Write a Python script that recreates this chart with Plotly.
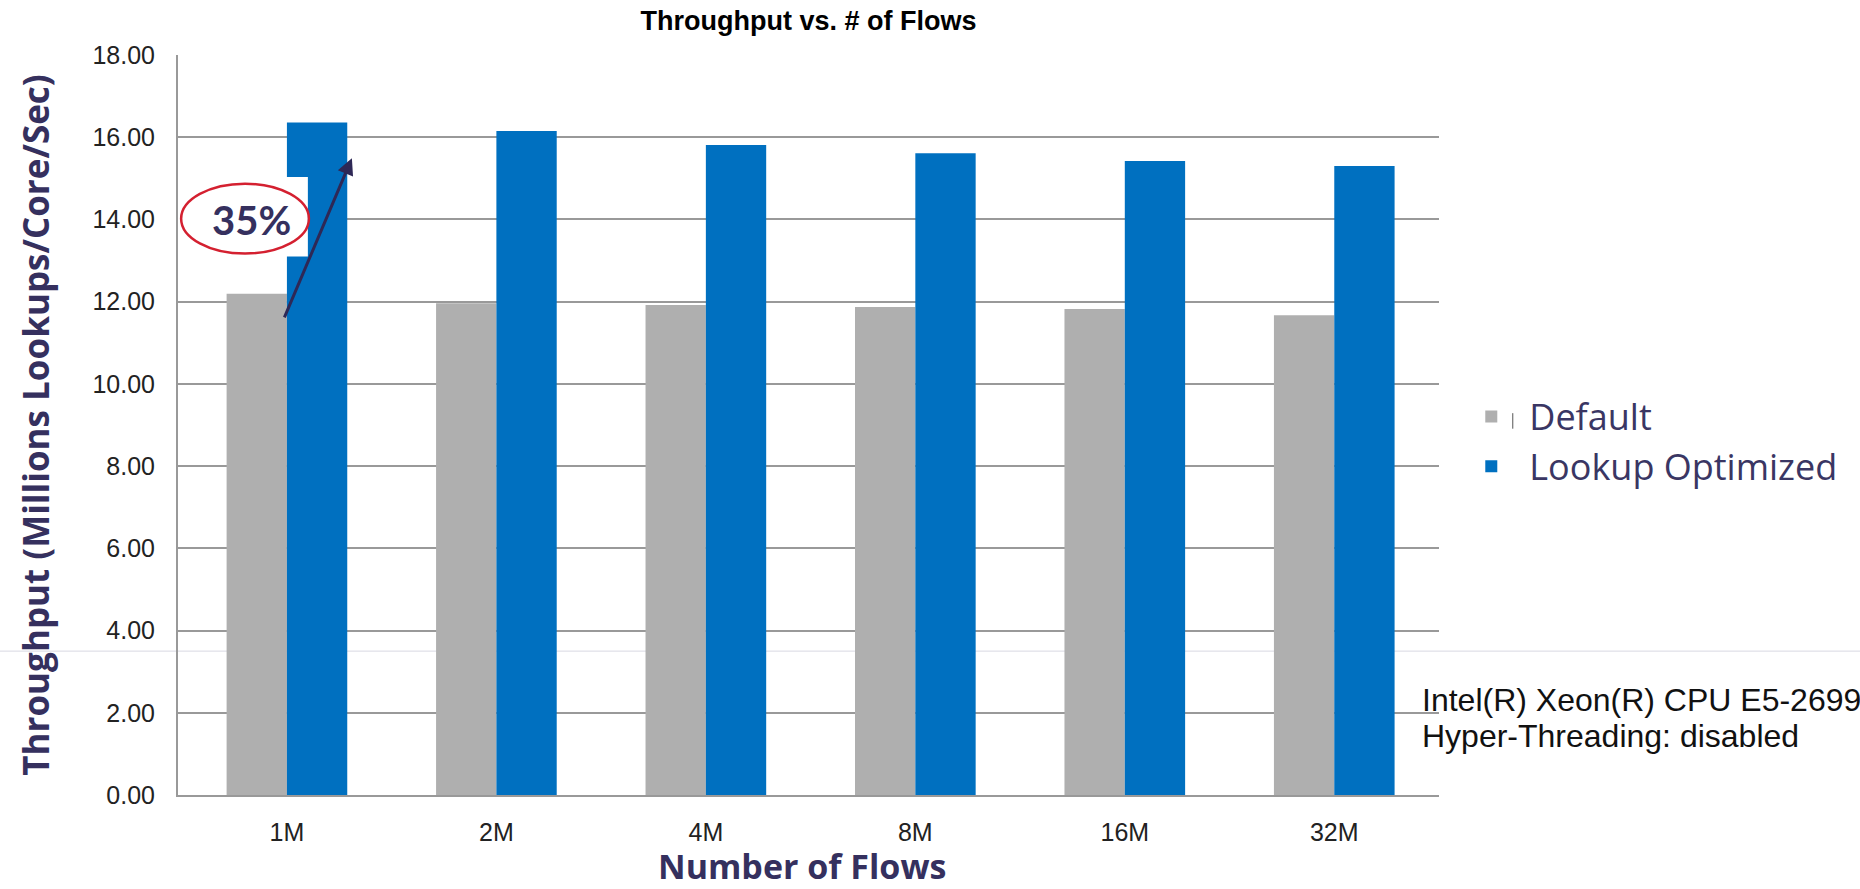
import plotly.graph_objects as go

# Throughput per core for each flow-table size
flows = ["1M", "2M", "4M", "8M", "16M", "32M"]
default_tput = [12.19, 11.96, 11.92, 11.87, 11.82, 11.67]
optimized_tput = [16.36, 16.15, 15.81, 15.61, 15.42, 15.30]
y_ticks = [0, 2, 4, 6, 8, 10, 12, 14, 16, 18]
gain_label = "35%"

NAVY = "#35305E"
GRID = "#999999"
TITLE_FONT = "'Open Sans', Lato, sans-serif"
PLAIN = "'Liberation Sans', Arial, sans-serif"
KEY_PAD = "\u2002"  # spacing between legend key and its label

fig = go.Figure()
fig.add_trace(go.Bar(name=KEY_PAD + "Default", x=flows, y=default_tput,
                     marker=dict(color="#AFAFAF", line=dict(width=0)),
                     legendgroup="a"))
fig.add_trace(go.Bar(name=KEY_PAD + "Lookup Optimized", x=flows, y=optimized_tput,
                     marker=dict(color="#0070C0", line=dict(width=0)),
                     legendgroup="b"))

# improvement callout on the first group
fig.add_shape(type="rect", xref="x", yref="y", x0=-0.52, x1=0.1, y0=13.1, y1=15.03,
              fillcolor="white", line=dict(width=0), layer="above")
fig.add_shape(type="circle", xref="x", yref="y", x0=-0.505, x1=0.105, y0=13.17, y1=14.87,
              line=dict(color="#D42030", width=2.5), layer="above")
fig.add_annotation(x=-0.17, y=13.98, xref="x", yref="y", text=f"<b>{gain_label}</b>",
                   showarrow=False, font=dict(family="Lato, sans-serif", size=40, color=NAVY))
fig.add_annotation(x=0.31, y=15.49, xref="x", yref="y",
                   ax=-0.015, ay=11.58, axref="x", ayref="y", text="",
                   showarrow=True, arrowhead=2, arrowsize=1.1, arrowwidth=3,
                   arrowcolor="#2E2856")

# faint full-width rule behind the chart
fig.add_shape(type="line", xref="paper", yref="y", x0=-0.2, x1=1.4, y0=3.5, y1=3.5,
              line=dict(color="#D8D8E2", width=1), layer="below")
# small stroke next to the first legend key
fig.add_shape(type="line", xref="paper", yref="paper", x0=1.0585, x1=1.0585, y0=0.495, y1=0.516,
              line=dict(color="#555555", width=1), layer="above")

# x-axis title, set below the category labels
fig.add_annotation(xref="paper", yref="paper", x=0.4948, y=(795 - 865.5) / 740,
                   xanchor="center", yanchor="middle", showarrow=False,
                   text="<b>Number of Flows</b>",
                   font=dict(family=TITLE_FONT, size=34, color=NAVY))

# system configuration note
fig.add_annotation(xref="paper", yref="paper", x=0.985, y=(795 - 700) / 740, xanchor="left",
                   yanchor="middle", align="left", showarrow=False,
                   text="Intel(R) Xeon(R) CPU E5-2699",
                   font=dict(family=PLAIN, size=32, color="#111111"))
fig.add_annotation(xref="paper", yref="paper", x=0.985, y=(795 - 736) / 740, xanchor="left",
                   yanchor="middle", align="left", showarrow=False,
                   text="Hyper-Threading: disabled",
                   font=dict(family=PLAIN, size=32, color="#111111"))

fig.update_layout(
    width=1860, height=889,
    margin=dict(l=178, r=421, t=55, b=94),
    paper_bgcolor="white", plot_bgcolor="rgba(0,0,0,0)",
    barmode="group", bargap=0.424, bargroupgap=0,
    title=dict(text="<b>Throughput vs. # of Flows</b>", x=0.5, xref="paper", y=1 - 21 / 889,
               yanchor="middle", font=dict(family=PLAIN, size=27, color="#000000")),
    legend=dict(x=1.0256, y=0.552, xanchor="left", yanchor="top",
                font=dict(family=TITLE_FONT, size=36, color="#3A3663"),
                traceorder="grouped", tracegroupgap=0, bgcolor="rgba(0,0,0,0)"),
    xaxis=dict(showline=True, linecolor=GRID, linewidth=2, automargin=False,
               ticks="outside", ticklen=14, tickcolor="rgba(0,0,0,0)",
               tickfont=dict(family=PLAIN, size=25, color="#222222")),
    yaxis=dict(range=[0, 18], tickvals=y_ticks, tickformat=".2f", automargin=False,
               showline=True, linecolor=GRID, linewidth=2,
               showgrid=True, gridcolor=GRID, gridwidth=2, zeroline=False,
               ticks="outside", ticklen=16, tickcolor="rgba(0,0,0,0)",
               tickfont=dict(family=PLAIN, size=25, color="#222222"),
               title=dict(text="<b>Throughput (Millions Lookups/Core/Sec)</b>", standoff=32,
                          font=dict(family=TITLE_FONT, size=35, color=NAVY))),
)

fig.write_html("out.html")
